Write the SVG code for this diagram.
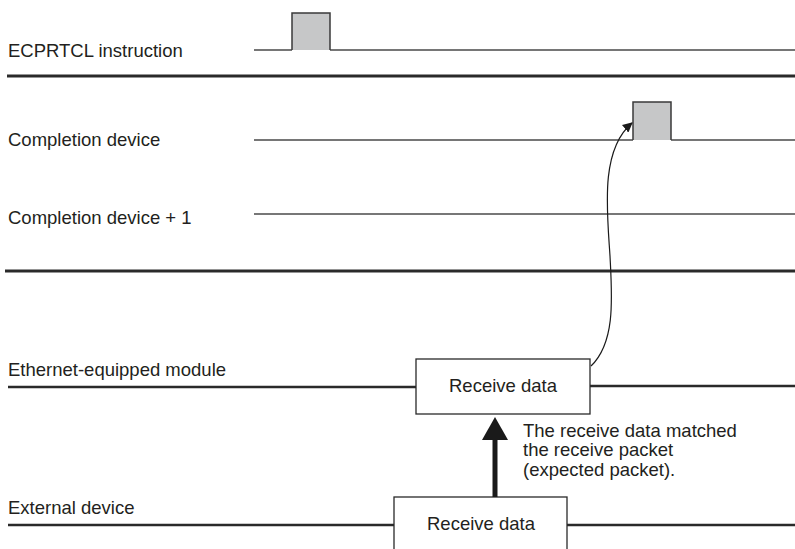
<svg xmlns="http://www.w3.org/2000/svg" width="795" height="549" viewBox="0 0 795 549">
<style>
text{font-family:"Liberation Sans",Arial,sans-serif;font-size:18.5px;fill:#231f20}
.sig{fill:none;stroke:#4a4a4a;stroke-width:1.5}
.sep{fill:none;stroke:#2a2a2a;stroke-width:3}
.bus{fill:none;stroke:#2a2a2a;stroke-width:2.5}
.pulse{fill:#c6c7c8;stroke:#3a3a3a;stroke-width:1.5}
.box{fill:#fff;stroke:#2a2a2a;stroke-width:1.3}
</style>
<defs>
<marker id="ah" markerWidth="10" markerHeight="10" refX="9" refY="5" orient="auto" markerUnits="userSpaceOnUse" viewBox="0 0 10 10">
<path d="M0,0 L10,5 L0,10 z" fill="#1a1a1a"/>
</marker>
</defs>
<g id="sep1"><line class="sep" x1="7" y1="76" x2="795" y2="76"/></g>
<g id="sep2"><line class="sep" x1="5" y1="271" x2="795" y2="271"/></g>
<g id="ecprtcl">
<text x="8" y="57">ECPRTCL instruction</text>
<path class="sig" d="M254,50 H292 M330,50 H795"/>
<path class="pulse" d="M292,50 V13 H330 V50"/>
</g>
<g id="completion">
<text x="8" y="146">Completion device</text>
<path class="sig" d="M254,140 H633 M671,140 H795"/>
<path class="pulse" d="M633,140 V102 H671 V140"/>
</g>
<g id="completion1">
<text x="8" y="224">Completion device + 1</text>
<line class="sig" x1="254" y1="214" x2="795" y2="214"/>
</g>
<g id="ethernet">
<text x="8" y="376">Ethernet-equipped module</text>
<path class="bus" d="M8,387 H416 M590,386 H795"/>
<rect class="box" x="416" y="359" width="174" height="55"/>
<text x="449" y="392">Receive data</text>
</g>
<g id="external">
<text x="8" y="514">External device</text>
<path class="bus" d="M8,525 H394 M567,525 H795"/>
<rect class="box" x="394" y="497" width="173" height="60"/>
<text x="427" y="530">Receive data</text>
</g>
<g id="connectors">
<path d="M591,366 C616,342 612,296 610,256 C607,210 600,150 632,123" fill="none" stroke="#1a1a1a" stroke-width="1.2" marker-end="url(#ah)"/>
<line x1="495" y1="497" x2="495" y2="436" stroke="#1a1a1a" stroke-width="5"/>
<path d="M482,440 L495,417 L508,440 z" fill="#1a1a1a"/>
</g>
<g id="note">
<text x="523" y="437">The receive data matched</text>
<text x="523" y="456">the receive packet</text>
<text x="523" y="476">(expected packet).</text>
</g>
</svg>
